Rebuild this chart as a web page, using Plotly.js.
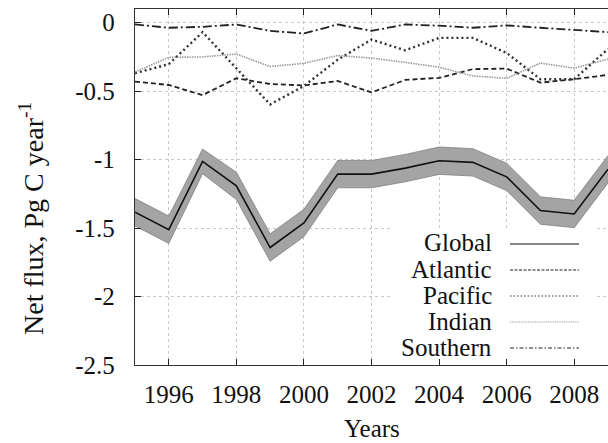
<!DOCTYPE html>
<html>
<head>
<meta charset="utf-8">
<script src="https://cdn.plot.ly/plotly-3.0.1.min.js"></script>
<style>
html,body{margin:0;padding:0;background:#fff;overflow:hidden;}
#chart{width:608px;height:443px;}
</style>
</head>
<body>
<div id="chart"></div>
<script>
const years = [1995,1996,1997,1998,1999,2000,2001,2002,2003,2004,2005,2006,2007,2008,2009];
const globalFlux = [-1.384,-1.512,-1.013,-1.192,-1.642,-1.463,-1.106,-1.106,-1.062,-1.008,-1.020,-1.126,-1.372,-1.397,-1.070];
const globalUncertainty = [0.10,0.10,0.09,0.10,0.10,0.10,0.10,0.10,0.10,0.10,0.10,0.10,0.10,0.10,0.10];
const atlantic = [-0.430,-0.455,-0.529,-0.406,-0.448,-0.458,-0.426,-0.509,-0.418,-0.403,-0.339,-0.335,-0.438,-0.413,-0.381];
const pacific  = [-0.369,-0.303,-0.069,-0.330,-0.597,-0.462,-0.270,-0.123,-0.202,-0.111,-0.111,-0.221,-0.413,-0.413,-0.192];
const indian   = [-0.360,-0.253,-0.250,-0.229,-0.320,-0.297,-0.240,-0.258,-0.290,-0.325,-0.389,-0.406,-0.295,-0.332,-0.266];
const southern = [-0.013,-0.037,-0.030,-0.013,-0.060,-0.079,-0.013,-0.060,-0.013,-0.022,-0.037,-0.020,-0.037,-0.054,-0.069];
const seriesNames = ["Global","Atlantic","Pacific","Indian","Southern"];
const yTickValues = [0,-0.5,-1,-1.5,-2,-2.5];
const yTickLabels = ["0","-0.5","-1","-1.5","-2","-2.5"];
const xTickValues = [1996,1998,2000,2002,2004,2006,2008];

const FONT = '"Liberation Serif"';
const upper = globalFlux.map((v,i)=>v+globalUncertainty[i]);
const lower = globalFlux.map((v,i)=>v-globalUncertainty[i]);

const styles = {
  Global:   {color:'#111', width:1.6, dash:'solid'},
  Atlantic: {color:'#222', width:1.8, dash:'5px,3px'},
  Pacific:  {color:'#333', width:2.4, dash:'2px,3px'},
  Indian:   {color:'#9a9a9a', width:1.6, dash:'1.5px,1px'},
  Southern: {color:'#222', width:1.8, dash:'9px,3px,2px,3px'}
};
const legendStyles = {
  Global:   {color:'#111', width:1.2, dash:'solid'},
  Atlantic: {color:'#222', width:1.1, dash:'3px,1.5px'},
  Pacific:  {color:'#333', width:1.2, dash:'1.5px,2px'},
  Indian:   {color:'#999', width:1.2, dash:'1px,0.8px'},
  Southern: {color:'#222', width:1.1, dash:'4px,2px,1.5px,2px'}
};

const traces = [
  {x:years, y:upper, type:'scatter', mode:'lines', line:{color:'#808080', width:0.8}, hoverinfo:'skip', showlegend:false},
  {x:years, y:lower, type:'scatter', mode:'lines', fill:'tonexty', fillcolor:'#a4a4a4', line:{color:'#808080', width:0.8}, hoverinfo:'skip', showlegend:false},
  {x:years, y:globalFlux, name:'Global', type:'scatter', mode:'lines', line:styles.Global, showlegend:false},
  {x:years, y:atlantic, name:'Atlantic', type:'scatter', mode:'lines', line:styles.Atlantic, showlegend:false},
  {x:years, y:pacific, name:'Pacific', type:'scatter', mode:'lines', line:styles.Pacific, showlegend:false},
  {x:years, y:indian, name:'Indian', type:'scatter', mode:'lines', line:styles.Indian, showlegend:false},
  {x:years, y:southern, name:'Southern', type:'scatter', mode:'lines', line:styles.Southern, showlegend:false}
];

// plot area geometry (px)
const L = 135, T = 9, B = 78, W = 608, H = 443;
const plotW = W - L, plotH = H - T - B;
const px2x = p => (p - L)/plotW;
const py2y = p => (H - B - p)/plotH;

const shapes = [
  {type:'rect', xref:'paper', yref:'paper', x0:px2x(392), x1:px2x(594), y0:py2y(359), y1:py2y(228),
   fillcolor:'#ffffff', line:{width:0}, layer:'above'}
];
const annotations = [
  {xref:'paper', yref:'paper', x:px2x(31), y:py2y(219), text:'Net flux, Pg C year<sup>-1</sup>', textangle:-90,
   showarrow:false, xanchor:'center', yanchor:'middle', font:{family:FONT, size:28, color:'#111'}},
  {xref:'paper', yref:'paper', x:0.5, y:py2y(428), text:'Years', showarrow:false,
   xanchor:'center', yanchor:'middle', font:{family:FONT, size:25, color:'#111'}}
];
const legendY = [243, 269, 295, 321, 347];
seriesNames.forEach((n,i)=>{
  annotations.push({xref:'paper', yref:'paper', x:px2x(494), y:py2y(legendY[i]), text:n, showarrow:false,
    xanchor:'right', yanchor:'middle', font:{family:FONT, size:25, color:'#111'}});
  shapes.push({type:'line', xref:'paper', yref:'paper', x0:px2x(510), x1:px2x(579), y0:py2y(legendY[i]+1), y1:py2y(legendY[i]+1),
    line:legendStyles[n], layer:'above'});
});

const layout = {
  width:W, height:H,
  margin:{l:L, r:0, t:T, b:B, pad:0},
  paper_bgcolor:'#fff', plot_bgcolor:'#fff',
  font:{family:FONT, size:25, color:'#111'},
  showlegend:false,
  xaxis:{range:[1995,2009], tickvals:xTickValues, ticks:'inside', ticklen:6, tickcolor:'#222',
    showline:true, linecolor:'#333', linewidth:1.2, mirror:'ticks',
    showgrid:true, gridcolor:'#c8c8c8', gridwidth:1, griddash:'dot', zeroline:false,
    tickfont:{family:FONT, size:25, color:'#111'}, ticklabelstandoff:7},
  yaxis:{range:[-2.5,0.1], tickvals:yTickValues, ticktext:yTickLabels, ticks:'inside', ticklen:6, tickcolor:'#222',
    showline:true, linecolor:'#333', linewidth:1.2,
    showgrid:true, gridcolor:'#c8c8c8', gridwidth:1, griddash:'dot', zeroline:false,
    tickfont:{family:FONT, size:25, color:'#111'}, ticklabelstandoff:14},
  shapes:shapes,
  annotations:annotations
};

Plotly.newPlot('chart', traces, layout, {staticPlot:true, displayModeBar:false});
</script>
</body>
</html>
